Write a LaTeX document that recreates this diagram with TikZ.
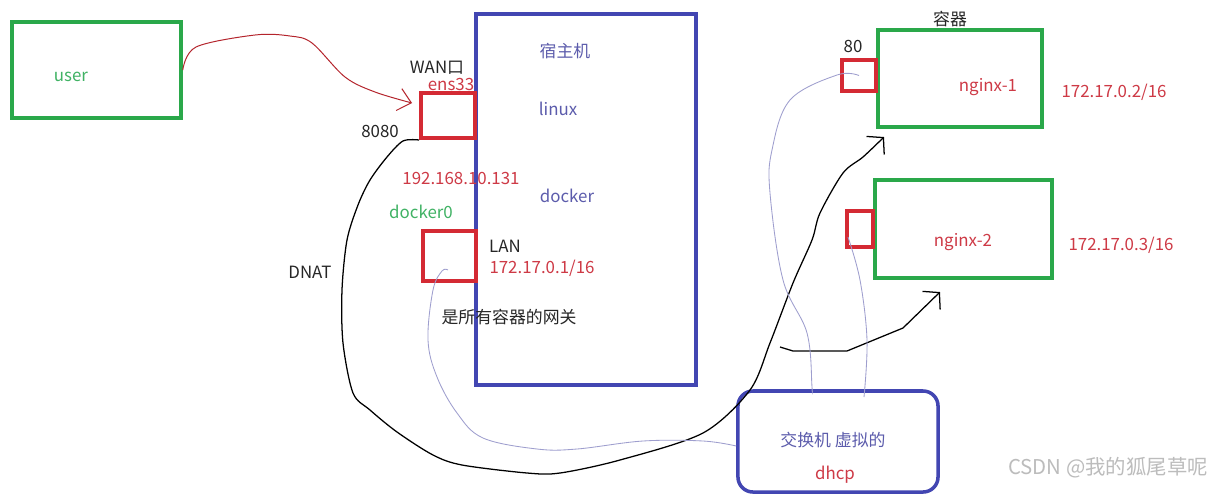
\documentclass[tikz,border=0pt]{standalone}
\usepackage{fontspec}
\setmainfont{Noto Sans CJK SC}
\usetikzlibrary{arrows.meta}

\definecolor{boxgreen}{RGB}{42,168,74}
\definecolor{txtgreen}{RGB}{64,178,100}
\definecolor{portred}{RGB}{212,42,52}
\definecolor{txtred}{RGB}{206,58,70}
\definecolor{hostblue}{RGB}{66,70,178}
\definecolor{txtblue}{RGB}{92,92,172}
\definecolor{wirelav}{RGB}{158,158,206}
\definecolor{markgray}{RGB}{188,188,188}

\begin{document}
\begin{tikzpicture}[
    x=0.025cm, y=-0.025cm,
    every node/.style={font=\fontsize{12}{14}\selectfont, inner sep=0pt},
    greenbox/.style={rectangle, draw=boxgreen, line width=2.5pt},
    redport/.style={rectangle, draw=portred, line width=2.8pt},
    hostbox/.style={rectangle, draw=hostblue, line width=2.5pt},
    switchbox/.style={rectangle, draw=hostblue, line width=2.5pt, rounded corners=0.375cm},
    blacktxt/.style={text=black!85},
    redtxt/.style={text=txtred},
    greentxt/.style={text=txtgreen},
    bluetxt/.style={text=txtblue},
    userarrow/.style={draw=portred!85!black, line width=0.7pt, -{Straight Barb[length=9pt, width=16pt]}},
    natarrow/.style={draw=black, line width=0.9pt, -{Straight Barb[length=8pt, width=18pt]}},
    wire/.style={draw=wirelav, line width=0.6pt}
]
\useasboundingbox (0,0) rectangle (1230,496);
\fill[white] (0,0) rectangle (1230,496);

% user
\node[greenbox, minimum width=4.225cm, minimum height=2.4cm] (user) at (96.5,70) {};
\node[greentxt] (usertxt) at (71,77) {user};

% host machine
\node[hostbox, minimum width=5.5cm, minimum height=9.275cm] (host) at (586,199.5) {};
\node[bluetxt] (hosttxt) at (565,51) {宿主机};
\node[bluetxt] (linuxtxt) at (558,109) {linux};
\node[bluetxt] (dockertxt) at (567,196) {docker};

% WAN port
\node[redport, minimum width=1.35cm, minimum height=1.125cm] (wan) at (448,115.5) {};
\node[blacktxt] (wantxt) at (437,68) {WAN口};
\node[redtxt] (enstxt) at (451,84) {ens33};
\node[blacktxt] (porttxt) at (380,131) {8080};
\node[redtxt] (wanip) at (461,178) {192.168.10.131};

% LAN port
\node[greentxt] (bridgetxt) at (421,212) {docker0};
\node[redport, minimum width=1.325cm, minimum height=1.25cm] (lan) at (449.5,256) {};
\node[blacktxt] (lantxt) at (505,246) {LAN};
\node[redtxt] (lanip) at (542,268) {172.17.0.1/16};
\node[blacktxt] (gwtxt) at (509,317) {是所有容器的网关};
\node[blacktxt] (dnattxt) at (310,272) {DNAT};

% containers
\node[blacktxt] (ctrtxt) at (950,19) {容器};
\node[greenbox, minimum width=4.1cm, minimum height=2.425cm] (nginxa) at (960,78.5) {};
\node[redport, minimum width=0.85cm, minimum height=0.775cm] (porta) at (859,75.5) {};
\node[blacktxt] (portatxt) at (853,46) {80};
\node[redtxt] (nginxatxt) at (988,87) {nginx-1};
\node[redtxt] (nginxaip) at (1114,92) {172.17.0.2/16};

\node[greenbox, minimum width=4.425cm, minimum height=2.45cm] (nginxb) at (963.5,229) {};
\node[redport, minimum width=0.65cm, minimum height=0.9cm] (portb) at (860,229) {};
\node[redtxt] (nginxbtxt) at (963,242) {nginx-2};
\node[redtxt] (nginxbip) at (1121,245) {172.17.0.3/16};

% virtual switch
\node[switchbox, minimum width=5cm, minimum height=2.525cm] (switch) at (838,441.5) {};
\node[bluetxt] (switchtxt) at (833,440) {交换机 虚拟的};
\node[redtxt] (dhcptxt) at (835,475) {dhcp};

\node[text=markgray, font=\fontsize{14.5}{16}\selectfont] (mark) at (1108,468) {CSDN @我的狐尾草呢};

% user to WAN
\coordinate (wanin) at (412,103);
\draw[userarrow] plot[smooth, tension=0.55] coordinates {(user.east) (196,47) (255,35) (290,36) (312,43) (345,77) (375,92) (412,103)};

% DNAT to nginx-1
\coordinate (natend) at (884,137);
\draw[natarrow] plot[smooth, tension=0.5] coordinates {(wan.south west) (403,141) (387,157) (370,180) (358,205) (347,240) (342,290) (343,343) (353,393) (370,410) (397,432) (433,455) (462,465) (527,473) (560,473) (620,460) (703,433) (750,390) (770,343) (793,283) (812,240) (820,213) (843,173) (863,157) (884,137)};

% to nginx-2
\coordinate (ngxbin) at (940,292);
\draw[natarrow] (780,347) -- (793,351) -- (847,351) -- (903,328) -- (ngxbin);

% switch links
\draw[wire] plot[smooth, tension=0.6] coordinates {(porta.center) (837,75) (790,100) (772,150) (770,193) (783,280) (807,333) (812,387) (switch.north -| 812,0)};
\draw[wire] plot[smooth, tension=0.6] coordinates {(848,237) (860,280) (867,340) (864,397)};
\draw[wire] plot[smooth, tension=0.6] coordinates {(448,270) (442,271) (433,290) (428,340) (437,377) (457,413) (483,438) (537,449) (577,449) (643,441) (703,441) (switch.west |- 0,446)};

\end{tikzpicture}
\end{document}
